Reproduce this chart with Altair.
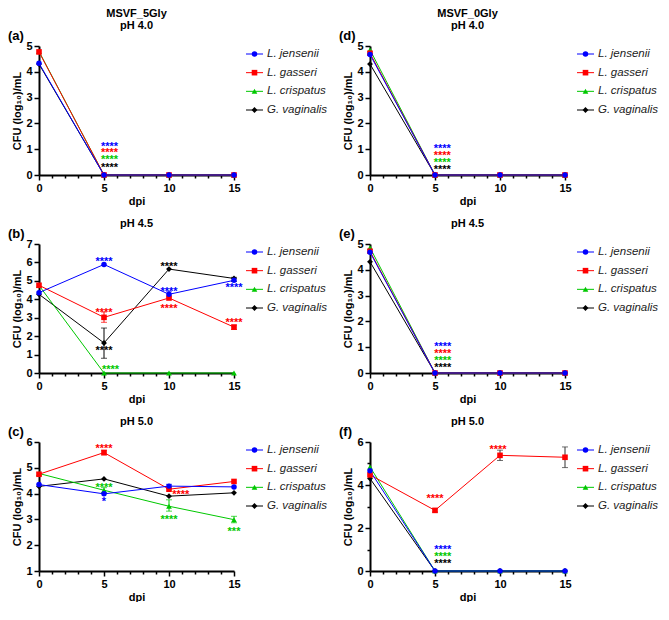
import altair as alt
import pandas as pd

FONT = "Liberation Sans, Arial, sans-serif"
SPECIES = ["L. jensenii", "L. gasseri", "L. crispatus", "G. vaginalis"]
DRAW_ORDER = ["G. vaginalis", "L. crispatus", "L. gasseri", "L. jensenii"]
COLORS = ["#0000FF", "#FF0000", "#00C800", "#000000"]
SHAPES = ["circle", "square", "triangle-up", "diamond"]
SIZES = [30, 34, 40, 32]
DAYS = [0, 5, 10, 15]

# ---- MSVF_5Gly ----
a_jen = [4.33, 0, 0, 0]
a_gas = [4.77, 0, 0, 0]
a_cri = [4.79, 0, 0, 0]
a_vag = [4.30, 0, 0, 0]
a_err = []
a_stars = [("L. jensenii", 5.42, 1.22, "****"), ("L. gasseri", 5.42, 0.95, "****"),
           ("L. crispatus", 5.42, 0.69, "****"), ("G. vaginalis", 5.42, 0.39, "****")]

b_jen = [4.36, 5.89, 4.27, 5.03]
b_gas = [4.76, 3.02, 4.07, 2.49]
b_cri = [4.75, 0, 0, 0]
b_vag = [4.27, 1.63, 5.64, 5.13]
b_err = [("L. gasseri", 5, 2.75, 3.31), ("G. vaginalis", 5, 0.80, 2.44),
         ("L. jensenii", 10, 4.13, 4.44), ("G. vaginalis", 15, 4.97, 5.19),
         ("L. gasseri", 15, 2.36, 2.60)]
b_stars = [("L. jensenii", 5, 6.17, "****"), ("G. vaginalis", 10, 5.90, "****"),
           ("L. jensenii", 10, 4.56, "****"), ("L. gasseri", 10, 3.62, "****"),
           ("L. jensenii", 15, 4.76, "****"), ("L. gasseri", 15, 2.87, "****"),
           ("L. gasseri", 5, 3.43, "****"), ("G. vaginalis", 5, 1.35, "****"),
           ("L. crispatus", 5.5, 0.35, "****")]

c_jen = [4.35, 3.99, 4.29, 4.26]
c_gas = [4.75, 5.59, 4.17, 4.47]
c_cri = [4.78, 4.13, 3.51, 2.99]
c_vag = [4.28, 4.57, 3.90, 4.03]
c_err = [("L. gasseri", 5, 5.50, 5.68), ("L. crispatus", 5, 4.03, 4.23),
         ("L. jensenii", 10, 4.20, 4.36), ("L. crispatus", 10, 3.32, 3.76),
         ("L. crispatus", 15, 2.87, 3.12)]
c_stars = [("L. gasseri", 5, 5.85, "****"), ("L. crispatus", 5, 4.35, "****"),
           ("L. jensenii", 5, 3.79, "*"), ("L. gasseri", 10.9, 4.08, "****"),
           ("L. crispatus", 10, 3.08, "****"), ("L. crispatus", 15, 2.64, "***")]

# ---- MSVF_0Gly ----
d_jen = [4.67, 0, 0, 0]
d_gas = [4.72, 0, 0, 0]
d_cri = [4.85, 0, 0, 0]
d_vag = [4.30, 0, 0, 0]
d_err = []
d_stars = [("L. jensenii", 5.56, 1.13, "****"), ("L. gasseri", 5.56, 0.85, "****"),
           ("L. crispatus", 5.56, 0.59, "****"), ("G. vaginalis", 5.56, 0.31, "****")]

e_jen = [4.68, 0, 0, 0]
e_gas = [4.72, 0, 0, 0]
e_cri = [4.86, 0, 0, 0]
e_vag = [4.31, 0, 0, 0]
e_err = []
e_stars = [("L. jensenii", 5.6, 1.11, "****"), ("L. gasseri", 5.6, 0.84, "****"),
           ("L. crispatus", 5.6, 0.58, "****"), ("G. vaginalis", 5.6, 0.30, "****")]

f_jen = [4.66, 0, 0, 0]
f_gas = [4.47, 2.82, 5.38, 5.29]
f_cri = [4.84, 0, 0, 0]
f_vag = [4.30, 0, 0, 0]
f_err = [("L. gasseri", 5, 2.74, 2.90), ("L. gasseri", 10, 5.14, 5.62),
         ("L. gasseri", 15, 4.81, 5.77)]
f_stars = [("L. gasseri", 5, 3.49, "****"), ("L. gasseri", 9.85, 5.77, "****"),
           ("L. jensenii", 5.6, 1.12, "****"), ("L. crispatus", 5.6, 0.79, "****"),
           ("G. vaginalis", 5.6, 0.48, "****")]

W, H = 195, 129
LEG_W_LEFT, LEG_W_RIGHT = 112, 70

color = alt.Color("species:N", scale=alt.Scale(domain=SPECIES, range=COLORS), legend=None)
shape = alt.Shape("species:N", scale=alt.Scale(domain=SPECIES, range=SHAPES), legend=None)
size = alt.Size("species:N", scale=alt.Scale(domain=SPECIES, range=SIZES), legend=None)


def text_at(text, x, y, fs=11, align="center", weight="bold"):
    return alt.Chart(alt.Data(values=[{}])).mark_text(
        text=text, font=FONT, fontSize=fs, fontWeight=weight, align=align,
        baseline="middle", color="black"
    ).encode(x=alt.value(x), y=alt.value(y))


def panel(series, errs, stars, ymin, ymax, ylab_step, letter, titles, err_color=None):
    vals = dict(zip(SPECIES, series))
    rows = []
    for sp in DRAW_ORDER:
        for d, v in zip(DAYS, vals[sp]):
            rows.append({"species": sp, "day": d, "cfu": v})
    df = pd.DataFrame(rows)
    xscale = alt.Scale(domain=[0, 15], nice=False, zero=False)
    yscale = alt.Scale(domain=[ymin, ymax], nice=False, zero=False)
    xaxis = alt.Axis(
        values=list(range(0, 16)),
        labelExpr="datum.value % 5 === 0 ? datum.label : ''",
        tickSize={"condition": {"test": "datum.value % 5 === 0", "value": 5}, "value": 3},
        title="dpi", labelFlush=False, labelOverlap=False, titlePadding=2,
    )
    yaxis = alt.Axis(
        values=list(range(ymin, ymax + 1)),
        labelExpr=f"datum.value % {ylab_step} === 0 ? datum.label : ''",
        tickSize={"condition": {"test": f"datum.value % {ylab_step} === 0", "value": 5}, "value": 3},
        title="CFU (log₁₀)/mL", labelOverlap=False, labelFlush=False, titlePadding=3,
    )
    X = alt.X("day:Q", scale=xscale, axis=xaxis)
    Y = alt.Y("cfu:Q", scale=yscale, axis=yaxis)

    lines = alt.Chart(df).mark_line(strokeWidth=1, clip=False).encode(x=X, y=Y, color=color)
    layers = [lines]
    if errs:
        edf = pd.DataFrame(errs, columns=["species", "day", "lo", "hi"])
        ecol = alt.value(err_color) if err_color else color
        eb = alt.Chart(edf)
        ex = alt.X("day:Q", scale=xscale, axis=xaxis)
        layers.append(eb.mark_rule(strokeWidth=1).encode(
            x=ex, y=alt.Y("lo:Q", scale=yscale, axis=yaxis), y2="hi:Q", color=ecol))
        layers.append(eb.mark_tick(orient="horizontal", size=6, thickness=1).encode(
            x=ex, y=alt.Y("lo:Q", scale=yscale, axis=yaxis), color=ecol))
        layers.append(eb.mark_tick(orient="horizontal", size=6, thickness=1).encode(
            x=ex, y=alt.Y("hi:Q", scale=yscale, axis=yaxis), color=ecol))
    pts = alt.Chart(df).mark_point(filled=True, opacity=1, clip=False).encode(
        x=X, y=Y, color=color, shape=shape, size=size)
    layers.append(pts)
    sdf = pd.DataFrame(stars, columns=["species", "day", "cfu", "t"])
    layers.append(alt.Chart(sdf).mark_text(
        font=FONT, fontSize=11, fontWeight="bold", dy=3, baseline="middle", align="center"
    ).encode(x=X, y=Y, text="t:N", color=color))
    layers.append(text_at(letter, -31, -10, fs=13, align="left"))
    if len(titles) == 2:
        layers.append(text_at(titles[0], W / 2, -32))
        layers.append(text_at(titles[1], W / 2, -20))
    else:
        layers.append(text_at(titles[0], W / 2, -20))
    return alt.layer(*layers).properties(width=W, height=H)


def legend(width):
    ldf = pd.DataFrame({"species": SPECIES})
    y = alt.Y("species:N", sort=SPECIES,
              scale=alt.Scale(type="point", domain=SPECIES, range=[8, 64], padding=0), axis=None)
    base = alt.Chart(ldf).encode(y=y, color=color)
    rule = base.mark_rule(strokeWidth=1).encode(x=alt.value(0), x2=alt.value(17))
    pt = base.mark_point(filled=True, opacity=1).encode(x=alt.value(8.5), shape=shape, size=size)
    txt = base.mark_text(align="left", baseline="middle", font=FONT, fontSize=11.5,
                         fontStyle="italic").encode(
        x=alt.value(21), text="species:N", color=alt.value("#222222"))
    return alt.layer(rule, pt, txt).properties(width=width, height=H)


pa = panel([a_jen, a_gas, a_cri, a_vag], a_err, a_stars, 0, 5, 1, "(a)", ["MSVF_5Gly", "pH 4.0"])
pb = panel([b_jen, b_gas, b_cri, b_vag], b_err, b_stars, 0, 7, 1, "(b)", ["pH 4.5"])
pc = panel([c_jen, c_gas, c_cri, c_vag], c_err, c_stars, 1, 6, 1, "(c)", ["pH 5.0"])
pd_ = panel([d_jen, d_gas, d_cri, d_vag], d_err, d_stars, 0, 5, 1, "(d)", ["MSVF_0Gly", "pH 4.0"])
pe = panel([e_jen, e_gas, e_cri, e_vag], e_err, e_stars, 0, 5, 1, "(e)", ["pH 4.5"])
pf = panel([f_jen, f_gas, f_cri, f_vag], f_err, f_stars, 0, 6, 2, "(f)", ["pH 5.0"], err_color="#333333")

chart = alt.concat(
    pa, legend(LEG_W_LEFT), pd_, legend(LEG_W_RIGHT),
    pb, legend(LEG_W_LEFT), pe, legend(LEG_W_RIGHT),
    pc, legend(LEG_W_LEFT), pf, legend(LEG_W_RIGHT),
    columns=4, spacing={"row": 69, "column": 12}, bounds="flush",
).properties(padding=0, background="white").configure_view(stroke=None).configure_axis(
    domainColor="black", domainWidth=2, tickColor="black", tickWidth=1.5,
    labelColor="black", labelFont=FONT, labelFontSize=11, labelFontWeight="bold",
    labelPadding=2, titleFont=FONT, titleFontSize=11, titleFontWeight="bold",
    titleColor="black", grid=False,
)

chart.save("out.html", embed_options={"renderer": "svg", "actions": False})
